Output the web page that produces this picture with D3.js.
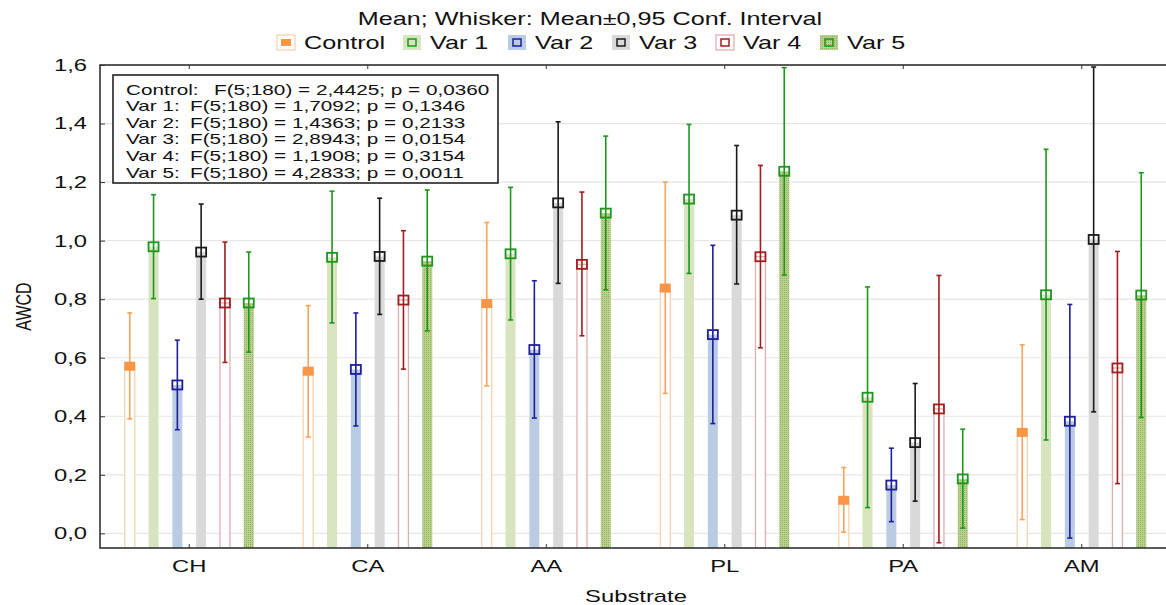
<!DOCTYPE html>
<html>
<head>
<meta charset="utf-8">
<script src="https://cdn.jsdelivr.net/npm/d3@7"></script>
<style>
body { margin: 0; background: #fff; }
svg { display: block; font-family: "Liberation Sans", Arial, sans-serif; }
</style>
</head>
<body>
<div id="chart"></div>
<script>
// data
const categories = ["CH", "CA", "AA", "PL", "PA", "AM"];
const seriesNames = ["Control", "Var 1", "Var 2", "Var 3", "Var 4", "Var 5"];

const controlMean = [0.571, 0.554, 0.785, 0.838, 0.113, 0.345];
const controlLow  = [0.391, 0.329, 0.504, 0.478, 0.004, 0.047];
const controlHigh = [0.753, 0.778, 1.062, 1.200, 0.225, 0.644];

const var1Mean = [0.979, 0.943, 0.955, 1.142, 0.465, 0.815];
const var1Low  = [0.802, 0.719, 0.729, 0.888, 0.088, 0.319];
const var1High = [1.157, 1.169, 1.182, 1.397, 0.842, 1.312];

const var2Mean = [0.507, 0.560, 0.628, 0.679, 0.165, 0.383];
const var2Low  = [0.354, 0.367, 0.394, 0.375, 0.040, -0.016];
const var2High = [0.660, 0.753, 0.863, 0.984, 0.291, 0.782];

const var3Mean = [0.961, 0.946, 1.129, 1.087, 0.310, 1.004];
const var3Low  = [0.800, 0.748, 0.854, 0.852, 0.110, 0.415];
const var3High = [1.125, 1.145, 1.406, 1.325, 0.512, 1.593];

const var4Mean = [0.787, 0.797, 0.919, 0.945, 0.425, 0.565];
const var4Low  = [0.584, 0.561, 0.675, 0.634, -0.032, 0.170];
const var4High = [0.995, 1.034, 1.166, 1.257, 0.881, 0.963];

const var5Mean = [0.787, 0.930, 1.094, 1.237, 0.186, 0.814];
const var5Low  = [0.619, 0.692, 0.832, 0.883, 0.018, 0.396];
const var5High = [0.961, 1.173, 1.357, 1.591, 0.356, 1.232];

const statLabels = ["Control:", "Var 1:", "Var 2:", "Var 3:", "Var 4:", "Var 5:"];
const statTexts = [
    "F(5;180) = 2,4425; p = 0,0360",
    "F(5;180) = 1,7092; p = 0,1346",
    "F(5;180) = 1,4363; p = 0,2133",
    "F(5;180) = 2,8943; p = 0,0154",
    "F(5;180) = 1,1908; p = 0,3154",
    "F(5;180) = 4,2833; p = 0,0011"
];

const means = [controlMean, var1Mean, var2Mean, var3Mean, var4Mean, var5Mean];
const lows = [controlLow, var1Low, var2Low, var3Low, var4Low, var5Low];
const highs = [controlHigh, var1High, var2High, var3High, var4High, var5High];

// look of each series
const whiskerColor = ["#f9a259", "#1c961c", "#1e1e9a", "#1a1a1a", "#a11c1c", "#1c961c"];
const barFill = ["#ffffff", "#d8e4be", "#b9cce4", "#d9d9d9", "#ffffff", "url(#dots)"];
const barStroke = ["#fbd3b0", "none", "none", "none", "#e0b0b0", "none"];

const width = 1166, height = 605;
const SX = 1.4; // the original export is stretched sideways
const plot = { left: 100, top: 65, right: 1171, bottom: 548 };

const svg = d3.select("#chart").append("svg")
    .attr("width", width)
    .attr("height", height);

const defs = svg.append("defs");
const pat = defs.append("pattern")
    .attr("id", "dots")
    .attr("width", 2).attr("height", 2)
    .attr("patternUnits", "userSpaceOnUse");
pat.append("rect").attr("width", 2).attr("height", 2).attr("fill", "#b9d08e");
pat.append("rect").attr("width", 1).attr("height", 1).attr("fill", "#93b25e");

defs.append("clipPath").attr("id", "plotclip")
    .append("rect")
    .attr("x", plot.left).attr("y", plot.top)
    .attr("width", plot.right - plot.left).attr("height", plot.bottom - plot.top);

const x = d3.scaleBand().domain(categories).range([plot.left, plot.right]).padding(0);
const xs = d3.scaleBand().domain(seriesNames).range([-71.4, 71.4]).padding(0);
const y = d3.scaleLinear().domain([-0.05, 1.6]).range([plot.bottom, plot.top]);

const fmt = d3.formatLocale({ decimal: ",", thousands: ".", grouping: [3], currency: ["", ""] }).format(".1f");

function label(g, px, py, str, size, anchor) {
    return g.append("text")
        .attr("transform", `translate(${px},${py}) scale(${SX},1)`)
        .attr("text-anchor", anchor || "start")
        .style("font-size", size + "px")
        .attr("fill", "#111")
        .text(str);
}

// gridlines
svg.append("g")
    .selectAll("line")
    .data(y.ticks(8))
    .enter().append("line")
    .attr("x1", plot.left).attr("x2", plot.right)
    .attr("y1", d => y(d)).attr("y2", d => y(d))
    .attr("stroke", "#e6e6e6")
    .attr("stroke-width", 1.2);

const body = svg.append("g").attr("clip-path", "url(#plotclip)");

const cx = (i, j) => x(categories[i]) + x.bandwidth() / 2 + xs(seriesNames[j]) + xs.bandwidth() / 2;

seriesNames.forEach((name, j) => {
    const g = body.append("g");
    const idx = d3.range(categories.length);

    g.selectAll("rect.bar")
        .data(idx)
        .enter().append("rect")
        .attr("class", "bar")
        .attr("x", i => cx(i, j) - 5)
        .attr("y", i => y(means[j][i]))
        .attr("width", 10)
        .attr("height", i => y.range()[0] - y(means[j][i]))
        .attr("fill", barFill[j])
        .attr("stroke", barStroke[j])
        .attr("stroke-width", 1.3);

    g.selectAll("line.whisker")
        .data(idx)
        .enter().append("line")
        .attr("x1", i => cx(i, j)).attr("x2", i => cx(i, j))
        .attr("y1", i => y(lows[j][i])).attr("y2", i => y(highs[j][i]))
        .attr("stroke", whiskerColor[j])
        .attr("stroke-width", 1.6);

    ["low", "high"].forEach(end => {
        const src = end === "low" ? lows[j] : highs[j];
        g.selectAll("line.cap-" + end)
            .data(idx)
            .enter().append("line")
            .attr("x1", i => cx(i, j) - 2.5).attr("x2", i => cx(i, j) + 2.5)
            .attr("y1", i => y(src[i])).attr("y2", i => y(src[i]))
            .attr("stroke", whiskerColor[j])
            .attr("stroke-width", 1.6);
    });

    if (j === 0) {
        g.selectAll("rect.mark")
            .data(idx)
            .enter().append("rect")
            .attr("x", i => cx(i, j) - 5.5)
            .attr("y", i => y(means[j][i]) - 4.5)
            .attr("width", 11).attr("height", 9)
            .attr("fill", "#f79646");
    } else {
        g.selectAll("rect.mark")
            .data(idx)
            .enter().append("rect")
            .attr("x", i => cx(i, j) - 5)
            .attr("y", i => y(means[j][i]) - 4.5)
            .attr("width", 10).attr("height", 9)
            .attr("fill", "none")
            .attr("stroke", whiskerColor[j])
            .attr("stroke-width", 1.8);
    }
});

// axes
const yAxis = svg.append("g")
    .attr("transform", `translate(${plot.left},0)`)
    .call(d3.axisLeft(y).ticks(8).tickFormat(fmt).tickSizeInner(-5).tickSizeOuter(0));
yAxis.select(".domain").remove();
yAxis.selectAll(".tick line").attr("stroke", "#333");
yAxis.selectAll(".tick text")
    .attr("x", -13 / SX)
    .attr("transform", `scale(${SX},1)`)
    .style("font-size", "17px")
    .style("font-family", "'Liberation Sans', Arial, sans-serif")
    .attr("fill", "#111");

const xAxis = svg.append("g")
    .attr("transform", `translate(0,${plot.bottom})`)
    .call(d3.axisBottom(x).tickSizeInner(-4).tickSizeOuter(0).tickPadding(12));
xAxis.select(".domain").remove();
xAxis.selectAll(".tick line").attr("stroke", "#333");
xAxis.selectAll(".tick text")
    .attr("transform", `scale(${SX},1)`)
    .style("font-size", "17px")
    .style("font-family", "'Liberation Sans', Arial, sans-serif")
    .attr("fill", "#111");

const topAxis = svg.append("g")
    .attr("transform", `translate(0,${plot.top})`)
    .call(d3.axisTop(x).tickSizeInner(-4).tickSizeOuter(0).tickFormat(""));
topAxis.select(".domain").remove();
topAxis.selectAll(".tick line").attr("stroke", "#333");

// frame
svg.append("rect")
    .attr("x", plot.left).attr("y", plot.top)
    .attr("width", plot.right - plot.left).attr("height", plot.bottom - plot.top)
    .attr("fill", "none")
    .attr("stroke", "#333")
    .attr("stroke-width", 1.6);

// axis titles
label(svg, 636, 602, "Substrate", 17, "middle");
svg.append("text")
    .attr("transform", `translate(31,${(plot.top + plot.bottom) / 2}) rotate(-90) scale(1,${SX})`)
    .attr("text-anchor", "middle")
    .style("font-size", "16px")
    .attr("fill", "#111")
    .text("AWCD");

// title + legend
label(svg, 590, 25, "Mean; Whisker: Mean\u00b10,95 Conf. Interval", 18, "middle");

const legendX = [277, 403, 508, 612, 716, 820];
const legend = svg.append("g");
seriesNames.forEach((name, j) => {
    const lx = legendX[j], ly = 35;
    legend.append("rect")
        .attr("x", lx).attr("y", ly)
        .attr("width", 18).attr("height", 15)
        .attr("fill", barFill[j])
        .attr("stroke", j === 0 || j === 4 ? barStroke[j] : "none")
        .attr("stroke-width", 1.3);
    if (j === 0) {
        legend.append("rect")
            .attr("x", lx + 4).attr("y", ly + 4)
            .attr("width", 10).attr("height", 7)
            .attr("fill", "#f79646");
    } else {
        legend.append("rect")
            .attr("x", lx + 5).attr("y", ly + 4)
            .attr("width", 8).attr("height", 7)
            .attr("fill", "none")
            .attr("stroke", whiskerColor[j])
            .attr("stroke-width", 1.5);
    }
    label(legend, lx + 27, 49, name, 18);
});

// stats box
const box = svg.append("g");
box.append("rect")
    .attr("x", 113).attr("y", 75)
    .attr("width", 385).attr("height", 108)
    .attr("fill", "#fff")
    .attr("stroke", "#222")
    .attr("stroke-width", 1.6);
statLabels.forEach((s, k) => {
    const by = 94.5 + k * 16.6;
    label(box, 126, by, s, 14.8);
    label(box, k === 0 ? 214 : 190, by, statTexts[k], 14.8);
});
</script>
</body>
</html>
